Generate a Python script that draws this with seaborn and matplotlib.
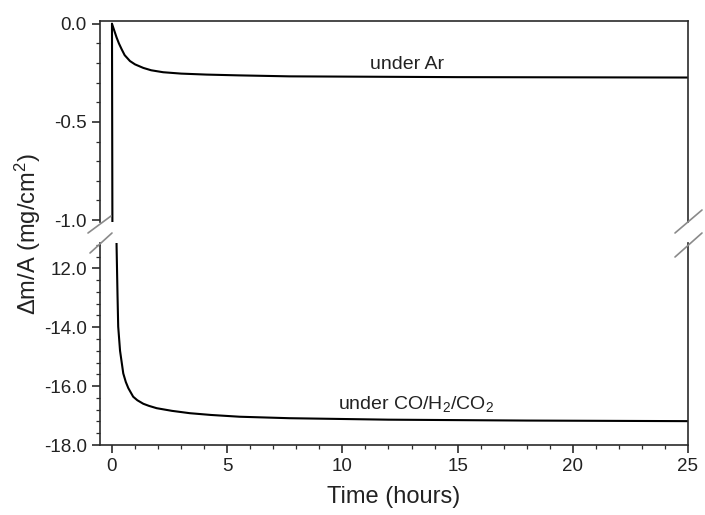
import matplotlib.pyplot as plt
import matplotlib.ticker as mticker
import pandas as pd
import seaborn as sns
from matplotlib.lines import Line2D

# Mass change curves
AR_TIME = [0.0, 0.1, 0.2, 0.3, 0.42, 0.55, 0.78, 1.0, 1.36, 1.7, 2.22, 3.0, 4.1,
           5.5, 7.7, 15.0, 25.0]
AR_MASS = [0.0, -0.035, -0.07, -0.1, -0.13, -0.16, -0.19, -0.207, -0.225, -0.237,
           -0.247, -0.254, -0.259, -0.263, -0.268, -0.272, -0.274]
CO_TIME = [0.0, 0.2, 0.24, 0.27, 0.35, 0.49, 0.6, 0.71, 0.92, 1.1, 1.36, 1.6, 1.94,
           2.6, 3.38, 4.3, 5.54, 7.7, 12.0, 18.0, 25.0]
CO_MASS = [0.0, -11.27, -12.9, -13.98, -14.8, -15.57, -15.86, -16.07, -16.36,
           -16.48, -16.6, -16.67, -16.75, -16.84, -16.92, -16.98, -17.04, -17.09,
           -17.14, -17.17, -17.19]

# Axis ticks / labels
X_TICKS = [0, 5, 10, 15, 20, 25]
TOP_YTICKS = [0.0, -0.5, -1.0]
TOP_YLABELS = ["0.0", "-0.5", "-1.0"]
BOTTOM_YTICKS = [-12.0, -14.0, -16.0, -18.0]
BOTTOM_YLABELS = ["12.0", "-14.0", "-16.0", "-18.0"]

W, H = 705, 515
INK = "#2b2b2b"


def fx(px):
    return px / W


def fy(py):
    return 1 - py / H


def style_axis(ax):
    for side in ["left", "right", "top", "bottom"]:
        ax.spines[side].set_color(INK)
        ax.spines[side].set_linewidth(1.2)
    ax.tick_params(which="both", direction="out", colors=INK, labelsize=13.5,
                   labelcolor="#222222", right=False, top=False)
    ax.tick_params(which="major", length=6, width=1.2)
    ax.tick_params(which="minor", length=3, width=0.9)


def run():
    sns.set_theme(style="ticks")
    plt.rcParams["font.family"] = ["Liberation Sans", "DejaVu Sans"]
    plt.rcParams["mathtext.fontset"] = "custom"
    plt.rcParams["mathtext.rm"] = "Liberation Sans"
    plt.rcParams["mathtext.it"] = "Liberation Sans"
    plt.rcParams["axes.unicode_minus"] = False

    ar = pd.DataFrame({"time": AR_TIME, "mass": AR_MASS})
    co = pd.DataFrame({"time": CO_TIME, "mass": CO_MASS})

    fig = plt.figure(figsize=(W / 100, H / 100), dpi=100)
    ax_top = fig.add_axes([fx(100), fy(222), fx(688) - fx(100), fy(21) - fy(222)])
    ax_bot = fig.add_axes([fx(100), fy(445), fx(688) - fx(100), fy(243) - fy(445)])

    for ax in (ax_top, ax_bot):
        for df in (ar, co):
            sns.lineplot(data=df, x="time", y="mass", ax=ax, color="black",
                         linewidth=1.5, sort=False, estimator=None)
        ax.set_xlim(-0.52, 25)
        ax.set_xlabel("")
        ax.set_ylabel("")
        style_axis(ax)

    # top panel
    ax_top.set_ylim(-1.01, 0.014)
    ax_top.spines["bottom"].set_visible(False)
    ax_top.tick_params(axis="x", which="both", bottom=False, labelbottom=False)
    ax_top.set_yticks(TOP_YTICKS)
    ax_top.set_yticklabels(TOP_YLABELS)
    ax_top.yaxis.set_minor_locator(mticker.MultipleLocator(0.1))
    ax_top.text(12.8, -0.208, "under Ar", ha="center", va="center", fontsize=14,
                color="#222222")

    # bottom panel
    ax_bot.set_ylim(-18.0, -11.14)
    ax_bot.spines["top"].set_visible(False)
    ax_bot.set_yticks(BOTTOM_YTICKS)
    ax_bot.set_yticklabels(BOTTOM_YLABELS)
    ax_bot.yaxis.set_minor_locator(mticker.MultipleLocator(0.4))
    ax_bot.set_xticks(X_TICKS)
    ax_bot.xaxis.set_minor_locator(mticker.MultipleLocator(1))
    ax_bot.set_xlabel("Time (hours)", fontsize=17, color="#222222", labelpad=8)
    ax_bot.text(13.2, -16.6, "under CO/H$_2$/CO$_2$", ha="center", va="center",
                fontsize=14, color="#222222")

    # axis break marks
    breaks = [((88, 233), (111, 216)), ((90, 253), (112, 233)),
              ((675, 233), (702, 210)), ((675, 257), (702, 233))]
    for (x0, y0), (x1, y1) in breaks:
        fig.add_artist(Line2D([fx(x0), fx(x1)], [fy(y0), fy(y1)],
                              transform=fig.transFigure, color="#8a8a8a", lw=1.2))

    fig.text(fx(28), fy(234), "Δm/A (mg/cm$^2$)", rotation=90, ha="center",
             va="center", fontsize=17, color="#222222")

    fig.savefig("out.png", dpi=100)


if __name__ == "__main__":
    run()
